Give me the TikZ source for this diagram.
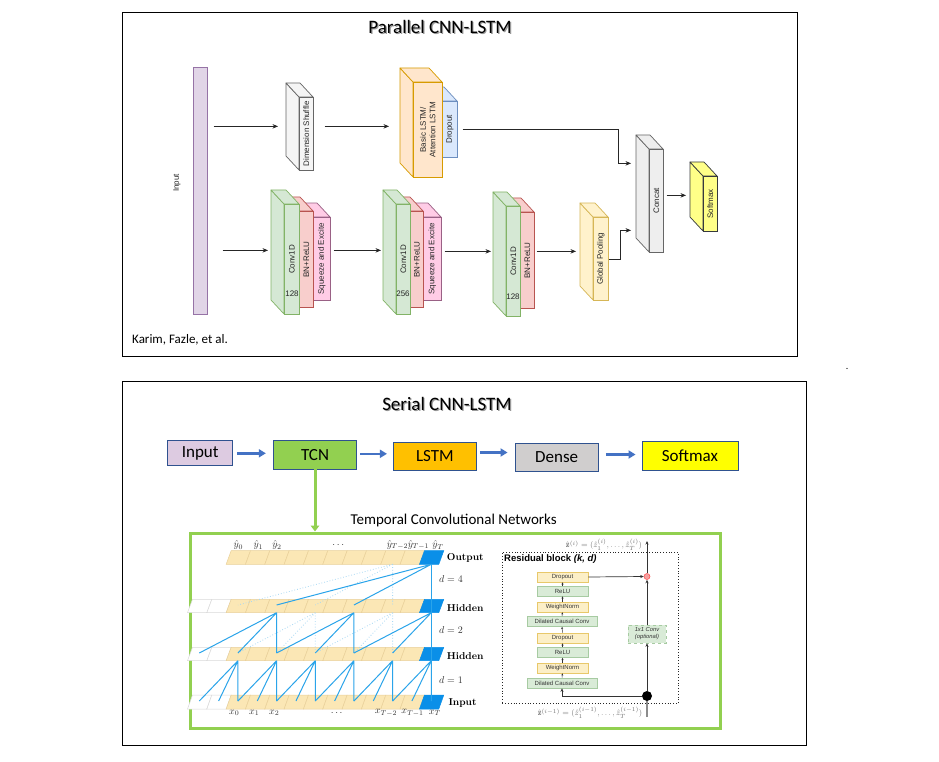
\documentclass[tikz,border=0pt]{standalone}
\usepackage{fontspec}
\newfontfamily\calibri{Carlito}
\newfontfamily\helv{Liberation Sans}
\usetikzlibrary{arrows.meta,calc}

\definecolor{inpF}{HTML}{E1D5E7}\definecolor{inpD}{HTML}{9673A6}
\definecolor{grayF}{HTML}{F5F5F5}\definecolor{grayD}{HTML}{666666}
\definecolor{lstmF}{HTML}{FFE6CC}\definecolor{lstmD}{HTML}{D79B00}
\definecolor{dropF}{HTML}{DAE8FC}\definecolor{dropD}{HTML}{6C8EBF}
\definecolor{grnF}{HTML}{D5E8D4}\definecolor{grnD}{HTML}{82B366}
\definecolor{redF}{HTML}{F8CECC}\definecolor{redD}{HTML}{B85450}
\definecolor{pinkF}{HTML}{FFCCE6}\definecolor{pinkD}{HTML}{996185}
\definecolor{ylwF}{HTML}{FFF2CC}\definecolor{ylwD}{HTML}{D6B656}
\definecolor{catF}{HTML}{EEEEEE}
\definecolor{smF}{HTML}{FFFF88}\definecolor{smD}{HTML}{36393D}
\definecolor{sBord}{HTML}{2F528F}
\definecolor{sInp}{HTML}{DDCBE1}
\definecolor{sTcn}{HTML}{92D050}
\definecolor{sLstm}{HTML}{FFC000}
\definecolor{sDense}{HTML}{D0CECE}
\definecolor{sSoft}{HTML}{FFFF00}
\definecolor{bArr}{HTML}{4472C4}
\definecolor{tcnTan}{HTML}{FBE7B5}\definecolor{tcnTanD}{HTML}{E9D09A}
\definecolor{tcnBlue}{HTML}{0A8FE8}
\definecolor{tcnLine}{HTML}{2AA4EA}
\definecolor{tcnDot}{HTML}{A8D8F4}
\definecolor{rY}{HTML}{FCEFC7}\definecolor{rYD}{HTML}{E8C86A}
\definecolor{rG}{HTML}{D9EBD7}\definecolor{rGD}{HTML}{A7CBA2}
\definecolor{rAddF}{HTML}{F4A0A0}

\tikzset{
  cubelbl/.style={rotate=90, font=\helv\fontsize{8}{9.5}\selectfont, align=center, inner sep=0pt, text=black!85},
  numlbl/.style={font=\helv\fontsize{8}{9}\selectfont, inner sep=0pt, text=black!85},
  grayc/.style={fill=grayF, draw=grayD, line width=0.7pt},
  catc/.style={fill=catF, draw=grayD, line width=0.7pt},
  lstmc/.style={fill=lstmF, draw=lstmD, line width=0.7pt},
  dropc/.style={fill=dropF, draw=dropD, line width=0.7pt},
  grnc/.style={fill=grnF, draw=grnD, line width=0.7pt},
  redc/.style={fill=redF, draw=redD, line width=0.7pt},
  pinkc/.style={fill=pinkF, draw=pinkD, line width=0.7pt},
  ylwc/.style={fill=ylwF, draw=ylwD, line width=0.7pt},
  smc/.style={fill=smF, draw=smD, line width=0.7pt},
  thinarr/.style={draw=black!85, line width=0.7pt, -{Stealth[length=5.5pt,width=4.5pt]}},
  sbox/.style={draw=sBord, line width=0.9pt, inner sep=0pt, font=\calibri\fontsize{17}{18}\selectfont},
  barr/.style={draw=bArr, line width=2.6pt, -{Triangle[length=7pt,width=8pt]}},
  garr/.style={draw=sTcn, line width=3pt, -{Triangle[length=6pt,width=8.5pt]}},
  tline/.style={draw=tcnLine, line width=1pt},
  tdot/.style={draw=tcnDot, line width=0.8pt, dotted},
  rowlbl/.style={anchor=west, font=\bfseries\fontsize{10}{11}\selectfont, inner sep=0pt},
  mlbl/.style={font=\fontsize{10}{11}\selectfont, inner sep=0pt, text=black!80},
  rbox/.style={line width=0.6pt, minimum height=10pt, inner sep=0pt, font=\helv\fontsize{6}{7}\selectfont, text=black!80},
  ry/.style={rbox, fill=rY, draw=rYD, minimum width=51pt},
  rg/.style={rbox, fill=rG, draw=rGD, minimum width=51pt},
  rgw/.style={rg, minimum width=70pt},
  tinyarr/.style={draw=black!80, line width=0.5pt, -{Stealth[length=2.2pt,width=2pt]}},
  medarr/.style={draw=black!80, line width=0.7pt, -{Stealth[length=3.5pt,width=3pt]}},
  ttl/.style={font=\calibri\fontsize{19}{21}\selectfont, inner sep=0pt},
  zlbl/.style={text=black!55, font=\fontsize{8.5}{9}\selectfont, inner sep=0pt},
}

% #1 name, #2 x1, #3 y1, #4 x2, #5 y2 (front face), #6 style, #7 text
\newcommand{\mycube}[7]{%
  \draw[#6, line join=round] (#2,#3) -- (#2-13,#3-14) -- (#2-13,#5-14) -- (#2,#5) -- cycle;
  \draw[#6, line join=round] (#2,#3) -- (#2-13,#3-14) -- (#4-13,#3-14) -- (#4,#3) -- cycle;
  \node[#6, rectangle, inner sep=0pt, minimum width={(#4-#2)*1pt}, minimum height={(#5-#3)*1pt}, anchor=north west] (#1) at (#2,#3) {};
  \node[cubelbl] at (#1.center) {#7};
}

% #1 top y, #2 bottom y, #3 first index
\newcommand{\tcnrow}[3]{%
  \foreach \n in {#3,...,12}{%
    \pgfmathsetmacro\xa{190+19.33*\n}%
    \pgfmathsetmacro\xb{\xa+19.33}%
    \ifnum\n<2 \tikzset{cur/.style={fill=white, draw=black!15}}\else
      \ifnum\n<12 \tikzset{cur/.style={fill=tcnTan, draw=tcnTanD}}\else
        \tikzset{cur/.style={fill=tcnBlue, draw=tcnBlue}}\fi\fi
    \draw[cur, line width=0.5pt] (\xa-2.5,#2) -- (\xb-2.5,#2) -- (\xb+2.5,#1) -- (\xa+2.5,#1) -- cycle;
  }}

\begin{document}
\begin{tikzpicture}[x=1pt,y=-1pt]
\useasboundingbox (0,0) rectangle (939,762);
\fill[white] (0,0) rectangle (939,762);

% ================= TOP PANEL =================
\node[draw=black, line width=0.9pt, minimum width=675pt, minimum height=344pt, anchor=north west, inner sep=0pt] (ptop) at (122,12) {};
\node[ttl, text=black!40] at (441.2,28.2) {Parallel CNN-LSTM};
\node[ttl] (t1) at (440,27) {Parallel CNN-LSTM};

\node[fill=inpF, draw=inpD, line width=0.7pt, minimum width=14pt, minimum height=247pt, inner sep=0pt, anchor=north west] (inp) at (193,67) {};
\node[cubelbl] (inplbl) at (177,183) {Input};

\mycube{ds}{299}{97}{313}{170}{grayc}{Dimension Shuffle}
\mycube{drop}{442}{101}{457}{157}{dropc}{Dropout}
\mycube{lstm}{413}{82}{442}{177}{lstmc}{Basic LSTM/\\Attention LSTM}

\mycube{se1}{313}{217}{330}{300}{pinkc}{Squeeze and Excite}
\mycube{bn1}{299}{211}{313}{307}{redc}{BN+ReLU}
\mycube{c1}{284}{204}{299}{314}{grnc}{Conv1D}
\node[numlbl] (n1) at (292,294) {128};

\mycube{se2}{423}{217}{441}{300}{pinkc}{Squeeze and Excite}
\mycube{bn2}{410}{211}{423}{307}{redc}{BN+ReLU}
\mycube{c2}{396}{204}{410}{314}{grnc}{Conv1D}
\node[numlbl] (n2) at (403,294) {256};

\mycube{bn3}{520}{212}{534}{308}{redc}{BN+ReLU}
\mycube{c3}{506}{206}{520}{316}{grnc}{Conv1D}
\node[numlbl] (n3) at (513,297) {128};

\mycube{gp}{593}{217}{608}{300}{ylwc}{Global Pooling}
\mycube{cat}{649}{149}{663}{252}{catc}{Concat}
\mycube{sm}{703}{176}{717}{231}{smc}{Softmax}

\draw[thinarr] ($(inp.east |- ds.west)+(6,-7.5)$) -- ($(ds.west)+(-21,-7.5)$);
\draw[thinarr] ($(ds.east)+(11,-7.5)$) -- ($(lstm.west |- ds.east)+(-24,-7.5)$);
\draw[thinarr] ($(drop.east)+(5,0)$) -| ($(cat.west)+(-31,-37.5)$) -- ($(cat.west)+(-18,-37.5)$);
\draw[thinarr] (gp.east) -- ++(12,0) |- ($(cat.west)+(-18,29.5)$);
\draw[thinarr] ($(cat.east)+(3,-5.5)$) -- ($(sm.west)+(-17,-8.5)$);
\draw[thinarr] ($(inp.east |- c1.west)+(15,-9)$) -- ($(c1.west)+(-16,-9)$);
\draw[thinarr] ($(se1.east)+(3,-8.5)$) -- ($(c2.west)+(-15,-9)$);
\draw[thinarr] ($(se2.east)+(3,-7.5)$) -- ($(c3.west)+(-15,-10)$);
\draw[thinarr] ($(bn3.east)+(2,-9)$) -- ($(gp.west)+(-17,-7.5)$);

\node[anchor=west, font=\calibri\fontsize{13}{15}\selectfont, inner sep=0pt] (cite) at (132,340) {Karim, Fazle, et al.};
\node[font=\calibri\fontsize{10}{12}\selectfont, inner sep=0pt] (dotc) at (847,369) {.};

% ================= BOTTOM PANEL =================
\node[draw=black, line width=0.9pt, minimum width=684pt, minimum height=364pt, anchor=north west, inner sep=0pt] (pbot) at (122,381) {};
\node[ttl, text=black!40] at (448.2,405.2) {Serial CNN-LSTM};
\node[ttl] (t2) at (447,404) {Serial CNN-LSTM};

\node[sbox, fill=sInp, minimum width=65.4pt, minimum height=25pt] (sIn) at (200.2,453.3) {Input};
\node[sbox, fill=sTcn, minimum width=83.4pt, minimum height=28.3pt] (sTc) at (315,454.8) {TCN};
\node[sbox, fill=sLstm, minimum width=83pt, minimum height=28pt] (sLs) at (434.9,456) {LSTM};
\node[sbox, fill=sDense, minimum width=83.4pt, minimum height=28.5pt] (sDe) at (556.7,457.5) {Dense};
\node[sbox, fill=sSoft, minimum width=96pt, minimum height=29.5pt] (sSo) at (690,455.7) {Softmax};

\draw[barr] ($(sIn.east)+(4,0)$) -- ($(sTc.west |- sIn.east)+(-7,0)$);
\draw[barr] ($(sTc.east)+(3,-1)$) -- ($(sLs.west |- sTc.east)+(-6,-1)$);
\draw[barr] ($(sLs.east)+(3,-3.5)$) -- ($(sDe.west |- sLs.east)+(-7,-3.5)$);
\draw[barr] ($(sDe.east)+(7,-3)$) -- ($(sSo.west |- sDe.east)+(-6,-3)$);

\node[draw=sTcn, line width=3pt, minimum width=530.5pt, minimum height=195.5pt, anchor=north west, inner sep=0pt] (tframe) at (188.5,531.5) {};
\draw[garr] (sTc.south) -- (sTc.south |- tframe.north);
\node[font=\calibri\fontsize{15}{17}\selectfont, inner sep=0pt] (tcnt) at (453.7,520) {Temporal Convolutional Networks};

% ---- TCN dilated convolution figure ----
\tcnrow{550.7}{564.3}{2}
\tcnrow{599.3}{612.7}{0}
\tcnrow{647.3}{660.7}{0}
\tcnrow{695}{709}{0}

\foreach \n in {0,...,12}{%
  \pgfmathsetmacro\xc{199.3+19.33*\n}%
  \coordinate (Ob\n) at (\xc,564.3);
  \coordinate (At\n) at (\xc,605);
  \coordinate (Ab\n) at (\xc,612.7);
  \coordinate (Bt\n) at (\xc,653);
  \coordinate (Bb\n) at (\xc,660.7);
  \coordinate (It\n) at (\xc,701);
}
% faint dotted connections
\draw[tdot] (Ob10) -- (At2) (Ob10) -- (At6) (Ob10) -- (At10);
\draw[tdot] (Ab6) -- (Bt2) (Ab6) -- (Bt4) (Ab6) -- (Bt6);
\draw[tdot] (Ab10) -- (Bt6) (Ab10) -- (Bt8) (Ab10) -- (Bt10);
% solid connections
\draw[tline] (Ob12) -- (At4) (Ob12) -- (At8);
\draw[tline] (Ab4) -- (Bt0) (Ab4) -- (Bt2) (Ab4) -- (Bt4);
\draw[tline] (Ab8) -- (Bt4) (Ab8) -- (Bt6) (Ab8) -- (Bt8);
\draw[tline] (Ab12) -- (Bt8) (Ab12) -- (Bt10);
\foreach \n in {2,4,...,12}{%
  \pgfmathtruncatemacro\m{\n-1}%
  \pgfmathtruncatemacro\k{\n-2}%
  \draw[tline] (Bb\n) -- (It\k) (Bb\n) -- (It\m) (Bb\n) -- (It\n);
}
\draw[tline] (Ob12) -- (It12);

\node[mlbl] (y0) at (238.3,545) {$\hat y_0$};
\node[mlbl] (y1) at (258.3,545) {$\hat y_1$};
\node[mlbl] (y2) at (277,545) {$\hat y_2$};
\node[mlbl] (yd) at (338.3,545) {$\cdots$};
\node[mlbl] (y3) at (397.5,545) {$\hat y_{T-2}$};
\node[mlbl] (y4) at (418.5,545) {$\hat y_{T-1}$};
\node[mlbl] (y5) at (438,545) {$\hat y_T$};

\node[mlbl] (x0) at (234.3,713) {$x_0$};
\node[mlbl] (x1) at (254.3,713) {$x_1$};
\node[mlbl] (x2) at (274.3,713) {$x_2$};
\node[mlbl] (xd) at (336.7,713) {$\cdots$};
\node[mlbl] (x3) at (386,713) {$x_{T-2}$};
\node[mlbl] (x4) at (412.5,713) {$x_{T-1}$};
\node[mlbl] (x5) at (435,713) {$x_T$};

\node[rowlbl] (lo) at (446.7,558) {Output};
\node[rowlbl] (lh2) at (446.7,608) {Hidden};
\node[rowlbl] (lh1) at (446.7,656) {Hidden};
\node[rowlbl] (li) at (448.3,703) {Input};
\node[mlbl] (d4) at (451,579) {$d=4$};
\node[mlbl] (d2) at (451,630) {$d=2$};
\node[mlbl] (d1) at (451,680) {$d=1$};

% ---- Residual block ----
\node[draw=black!85, dotted, line width=0.8pt, minimum width=176pt, minimum height=151pt, anchor=north west, inner sep=0pt] (rblk) at (502,552) {};
\node[anchor=west, font=\helv\bfseries\fontsize{9.5}{10}\selectfont, inner sep=0pt] (rtitle) at (504,559) {Residual block \textit{(k, d)}};

\node[ry] (rd1) at (562.5,577) {Dropout};
\node[rg] (rr1) at (562.5,591) {ReLU};
\node[ry] (rw1) at (562.5,607) {WeightNorm};
\node[rgw] (rc1) at (562,621.5) {Dilated Causal Conv};
\node[ry] (rd2) at (562.5,638) {Dropout};
\node[rg] (rr2) at (562.5,652.5) {ReLU};
\node[ry] (rw2) at (562.5,668) {WeightNorm};
\node[rgw] (rc2) at (562,683) {Dilated Causal Conv};
\draw[tinyarr] (rc2.north) -- (rw2.south);
\draw[tinyarr] (rw2.north) -- (rr2.south);
\draw[tinyarr] (rr2.north) -- (rd2.south);
\draw[tinyarr] (rd2.north) -- (rc1.south);
\draw[tinyarr] (rc1.north) -- (rw1.south);
\draw[tinyarr] (rw1.north) -- (rr1.south);
\draw[tinyarr] (rr1.north) -- (rd1.south);

\node[circle, fill=black, inner sep=0pt, minimum size=10pt] (rdot) at (647,696) {};
\node[circle, fill=rAddF, draw=red!70, line width=0.5pt, inner sep=0pt, minimum size=6pt] (radd) at (647,576.5) {};
\node[draw=rGD, fill=rG, dashed, line width=0.6pt, minimum width=38pt, minimum height=18pt, font=\helv\itshape\fontsize{5.8}{7}\selectfont, align=center, text=black!80, inner sep=0pt] (r11) at (647,634) {1x1 Conv\\(optional)};
\coordinate (rbot) at (647,717);
\coordinate (rtop) at (647,541);
\draw[black!45, line width=1.3pt] (rbot) -- (rdot);
\draw[medarr] (rdot) -- (r11.south);
\draw[medarr] (r11.north) -- (radd.south);
\draw[medarr] (radd.north) -- (rtop);
\draw[medarr] (rdot.west) -| (rc2.south);
\draw[medarr] (rd1.east) -- (radd.west);

\node[zlbl] (rztop) at (604,545) {$\hat{\mathbf{z}}^{(i)} = (\hat{z}^{(i)}_1, \ldots, \hat{z}^{(i)}_T)$};
\node[zlbl] (rzbot) at (590,713) {$\hat{\mathbf{z}}^{(i-1)} = (\hat{z}^{(i-1)}_1, \ldots, \hat{z}^{(i-1)}_T)$};

\end{tikzpicture}
\end{document}
